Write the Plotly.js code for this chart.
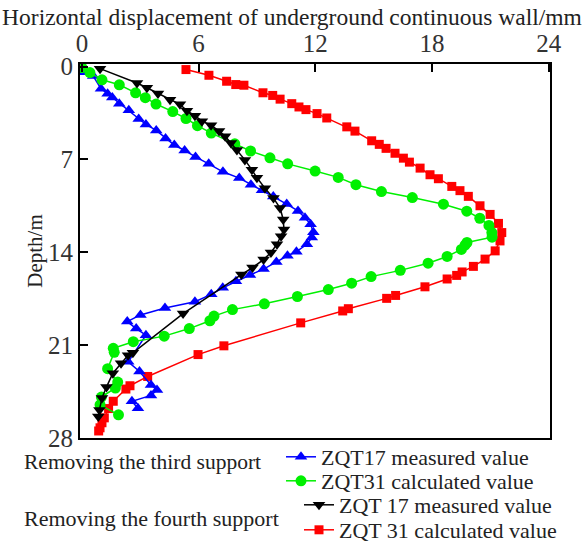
<!DOCTYPE html>
<html>
<head>
<meta charset="utf-8">
<script src="https://cdn.plot.ly/plotly-3.0.1.min.js"></script>
<style>html,body{margin:0;padding:0;background:#fff;}#chart{width:584px;height:543px;}</style>
</head>
<body>
<div id="chart"></div>
<script>
// ZQT17 measured value (removing the third support)
const blueX = [0.05,0.07,0.58,0.98,1.32,1.56,1.92,2.41,2.92,3.29,3.82,4.30,4.75,5.28,5.84,6.52,7.25,8.09,8.69,9.26,9.84,10.53,11.11,11.47,11.76,11.90,11.82,11.57,11.03,10.57,10.00,9.34,8.64,7.92,7.24,6.65,5.81,4.27,3.01,2.33,2.79,3.29,2.38,2.96,3.55,3.86,3.55,2.57,2.88];
const blueY = [0.10,0.43,0.71,1.67,2.04,2.32,2.79,3.29,3.94,4.36,4.81,5.41,5.91,6.32,6.81,7.33,7.93,8.40,8.90,9.31,9.80,10.36,10.88,11.39,11.89,12.49,12.89,13.39,13.95,14.26,14.73,15.26,15.71,16.19,16.68,17.17,17.73,18.20,18.72,19.22,19.75,20.25,22.25,22.98,24.01,24.38,24.79,25.23,25.75];
// ZQT31 calculated value (removing the third support)
const greenX = [0.00,0.41,1.03,1.92,2.76,3.26,3.81,4.67,5.35,5.94,6.65,7.86,8.67,9.67,10.58,11.99,13.18,14.09,15.40,16.99,18.59,19.79,20.46,20.93,21.08,21.09,19.80,19.70,19.51,18.78,17.80,16.37,14.87,13.87,12.67,11.08,9.38,7.74,6.79,6.58,5.52,4.23,2.64,1.61,1.66,1.32,1.84,1.72,1.00,0.93,1.88];
const greenY = [0.07,0.45,0.99,1.37,1.97,2.34,2.82,3.39,3.91,4.45,5.01,5.82,6.36,6.87,7.33,7.87,8.35,8.90,9.42,9.87,10.37,10.90,11.43,11.97,12.51,12.86,13.26,13.46,13.78,14.31,14.82,15.36,15.83,16.33,16.81,17.33,17.88,18.32,18.81,19.16,19.75,20.32,20.74,21.24,21.54,22.77,23.78,24.23,24.91,25.50,26.25];
// ZQT 17 measured value (removing the fourth support)
const blackX = [0.93,2.83,3.34,3.91,4.53,5.04,5.40,5.81,6.17,6.64,7.05,7.36,7.66,7.97,8.38,8.74,9.00,9.41,9.85,10.19,10.35,10.39,10.24,10.03,9.72,9.34,8.77,8.20,5.20,2.62,2.37,2.01,1.59,1.26,1.03,0.90,0.84];
const blackY = [0.15,1.23,1.59,2.02,2.49,2.84,3.33,3.70,4.11,4.41,4.86,5.24,5.76,6.28,7.03,7.78,8.38,9.16,9.91,10.66,11.52,12.27,12.79,13.39,14.01,14.55,15.15,15.68,18.62,21.58,21.76,22.36,23.11,24.16,24.98,25.88,26.37];
// ZQT 31 calculated value (removing the fourth support)
const redX = [5.35,6.53,7.44,7.91,8.33,9.31,9.81,10.19,10.79,11.16,11.52,12.09,12.59,13.62,14.04,14.90,15.29,15.64,16.10,16.53,16.84,17.39,17.90,18.33,19.02,19.44,19.87,20.47,20.99,21.42,21.59,21.50,21.25,20.73,20.13,19.55,19.27,18.78,17.64,16.13,15.67,13.70,13.41,11.25,7.30,5.97,3.38,2.47,2.26,1.61,1.37,1.15,1.03,0.93,0.86];
const redY = [0.22,0.65,1.10,1.35,1.40,1.97,2.17,2.45,2.79,3.04,3.24,3.54,3.87,4.54,4.86,5.59,5.86,6.16,6.53,6.90,7.20,7.65,8.15,8.45,9.03,9.35,9.78,10.49,11.14,11.82,12.51,13.14,13.89,14.51,15.06,15.48,15.74,16.01,16.60,17.25,17.47,18.25,18.42,19.32,21.05,21.71,23.36,24.06,24.31,25.23,25.78,26.48,26.85,27.23,27.47];

const xTicks = [0,6,12,18,24];
const yTicks = [0,7,14,21,28];
const names = ["ZQT17 measured value","ZQT31 calculated value","ZQT 17 measured value","ZQT 31 calculated value"];
const groupLabels = ["Removing the third support","Removing the fourth support"];
const xTitle = 'Horizontal displacement of underground continuous wall/mm';
const yTitle = 'Depth/m';

const SERIF = "Liberation Serif, Times New Roman, serif";

const traces = [
  {x: redX, y: redY, name: names[3], legend: 'legend4', mode: 'lines+markers',
   line: {color: '#ff0000', width: 1.5}, marker: {symbol: 'square', size: 9, color: '#ff0000'}},
  {x: blueX, y: blueY, name: names[0], legend: 'legend', mode: 'lines+markers',
   line: {color: '#0000ff', width: 1.5}, marker: {symbol: 'triangle-up', size: 11, color: '#0000ff'}},
  {x: greenX, y: greenY, name: names[1], legend: 'legend2', mode: 'lines+markers',
   line: {color: '#00f000', width: 1.5}, marker: {symbol: 'circle', size: 11, color: '#00f000'}},
  {x: blackX, y: blackY, name: names[2], legend: 'legend3', mode: 'lines+markers',
   line: {color: '#000000', width: 1.5}, marker: {symbol: 'triangle-down', size: 11, color: '#000000'}}
];

const legendFont = {family: SERIF, size: 22, color: '#222'};
function leg(px, top) {
  return {x: (px-80)/470, y: (438-top)/374, xanchor: 'left', yanchor: 'top',
          bgcolor: 'rgba(0,0,0,0)', borderwidth: 0, font: legendFont};
}

const layout = {
  width: 584, height: 543,
  margin: {l: 80, r: 34, t: 64, b: 105, autoexpand: false},
  paper_bgcolor: '#fff', plot_bgcolor: '#fff',
  font: {family: SERIF, size: 20, color: '#222'},
  showlegend: true,
  title: {text: xTitle, font: {family: SERIF, size: 23.5, color: '#222'},
          x: 0.5, xref: 'container', xanchor: 'center', y: 1 - 17/543, yref: 'container', yanchor: 'middle'},
  xaxis: {
    side: 'top', range: [-0.1, 24.07], tickvals: xTicks, ticktext: xTicks.map(String),
    ticks: 'inside', ticklen: 8, tickwidth: 2, tickcolor: '#000',
    showline: true, linewidth: 2, linecolor: '#000', mirror: true,
    showgrid: false, zeroline: false,
    tickfont: {family: SERIF, size: 25, color: '#333'}
  },
  yaxis: {
    range: [28, -0.2], tickvals: yTicks, ticktext: yTicks.map(String),
    ticks: 'inside', ticklen: 8, tickwidth: 2, tickcolor: '#000',
    showline: true, linewidth: 2, linecolor: '#000', mirror: true,
    showgrid: false, zeroline: false,
    tickfont: {family: SERIF, size: 25, color: '#333'},
    title: {text: yTitle, font: {family: SERIF, size: 21, color: '#222'}, standoff: 0}
  },
  legend: leg(281, 436),
  legend2: leg(281, 460),
  legend3: leg(299, 484),
  legend4: leg(299, 509),
  annotations: [
    {text: groupLabels[0], xref: 'paper', yref: 'paper', x: (22-80)/470, y: (438-462)/374, xanchor: 'left', yanchor: 'middle', showarrow: false, font: {family: SERIF, size: 21.5, color: '#222'}},
    {text: groupLabels[1], xref: 'paper', yref: 'paper', x: (22-80)/470, y: (438-518)/374, xanchor: 'left', yanchor: 'middle', showarrow: false, font: {family: SERIF, size: 22, color: '#222'}}
  ]
};

Plotly.newPlot('chart', traces, layout, {displayModeBar: false});
</script>
</body>
</html>
